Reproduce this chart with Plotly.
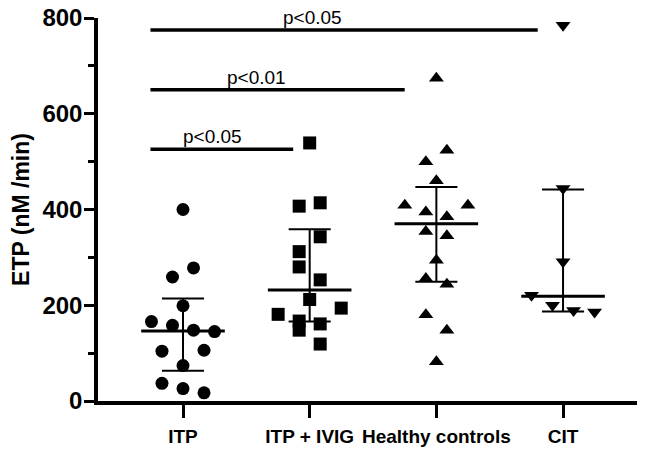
import plotly.graph_objects as go

categories = ["ITP", "ITP + IVIG", "Healthy controls", "CIT"]

itp_values = [400, 278, 259, 199, 166, 158, 148, 145, 104, 106, 74, 37, 26, 17]
ivig_values = [539, 407, 414, 343, 312, 280, 253, 212, 181, 194, 167, 148, 161, 119]
healthy_values = [674, 524, 500, 460, 409, 409, 395, 385, 354, 345, 294, 256, 244, 180, 148, 82]
cit_values = [785, 444, 291, 221, 200, 189, 186]

# horizontal scatter (jitter) steps of each point, as plotted in the reference
itp_jitter = [0, 1, -1, 0, -3, -1, 1, 3, -2, 2, 0, -2, 0, 2]
ivig_jitter = [0, -1, 1, 1, -1, -1, 1, 0, -3, 3, -1, -1, 1, 1]
healthy_jitter = [0, 1, -1, 0, -3, 3, -1, 1, -1, 1, 0, -1, 1, -1, 1, 0]
cit_jitter = [0, 0, 0, -3, -1, 1, 3]

medians = [146, 232, 370, 219]
err_high = [214, 359, 447, 442]
err_low = [63, 166, 249, 187]

sig_labels = ["p<0.05", "p<0.01", "p<0.05"]
sig_y = [526, 650, 775]
sig_end = [0.87, 1.75, 2.80]
sig_text_x = [0.23, 0.58, 1.02]

groups = [itp_values, ivig_values, healthy_values, cit_values]
jitters = [itp_jitter, ivig_jitter, healthy_jitter, cit_jitter]
symbols = ["circle", "square", "triangle-up", "triangle-down"]
step = 0.083

fig = go.Figure()

for i, (vals, jit) in enumerate(zip(groups, jitters)):
    fig.add_trace(go.Scatter(x=[i, i], y=[err_low[i], err_high[i]], mode="lines",
                             line=dict(color="black", width=2), showlegend=False, hoverinfo="skip"))
    for v in (err_low[i], err_high[i]):
        fig.add_trace(go.Scatter(x=[i - 0.166, i + 0.166], y=[v, v], mode="lines",
                                 line=dict(color="black", width=2), showlegend=False, hoverinfo="skip"))
    fig.add_trace(go.Scatter(x=[i - 0.33, i + 0.33], y=[medians[i], medians[i]], mode="lines",
                             line=dict(color="black", width=3), showlegend=False, hoverinfo="skip"))
    fig.add_trace(go.Scatter(x=[i + j * step for j in jit], y=vals, mode="markers",
                             marker=dict(symbol=symbols[i], size=13, color="black",
                                         line=dict(width=0)),
                             showlegend=False, name=categories[i], cliponaxis=False))

for k in range(len(sig_labels)):
    fig.add_trace(go.Scatter(x=[-0.257, sig_end[k]], y=[sig_y[k], sig_y[k]], mode="lines",
                             line=dict(color="black", width=3.5), showlegend=False,
                             hoverinfo="skip", cliponaxis=False))
    fig.add_annotation(x=sig_text_x[k], y=sig_y[k], text=sig_labels[k], showarrow=False,
                       xref="x", yref="y", yanchor="bottom", xanchor="center", yshift=0,
                       font=dict(family="Liberation Sans, Arial", size=19, color="black"))

# the page body has an 8px margin, so the figure is drawn 8px smaller than the window
fig.update_layout(
    width=637, height=446,
    margin=dict(l=90, r=0, t=10, b=53),
    paper_bgcolor="white", plot_bgcolor="white",
    xaxis=dict(range=[-0.671, 3.647], tickvals=[0, 1, 2, 3], ticktext=categories,
               showgrid=False, zeroline=False, showline=True, linecolor="black", linewidth=3.5,
               ticks="outside", ticklen=13, tickwidth=3, tickcolor="black", ticklabelstandoff=2,
               automargin=False, ticklabeloverflow="allow",
               tickfont=dict(family="Liberation Sans, Arial", size=19, color="black", weight="bold")),
    yaxis=dict(range=[0, 800], tickvals=[0, 200, 400, 600, 800],
               showgrid=False, zeroline=False, showline=True, linecolor="black", linewidth=3.5,
               ticks="outside", ticklen=10, tickwidth=3, tickcolor="black", automargin=False,
               ticklabeloverflow="allow", ticklabelstandoff=-3,
               minor=dict(tickvals=[100, 300, 500, 700], ticks="outside", ticklen=6, tickwidth=3,
                          tickcolor="black", showgrid=False),
               tickfont=dict(family="Liberation Sans, Arial", size=24, color="black", weight="bold"),
               title=dict(text="ETP (nM /min)", standoff=10,
                          font=dict(family="Liberation Sans, Arial", size=23, color="black", weight="bold"))),
)

fig.write_html("out.html")
